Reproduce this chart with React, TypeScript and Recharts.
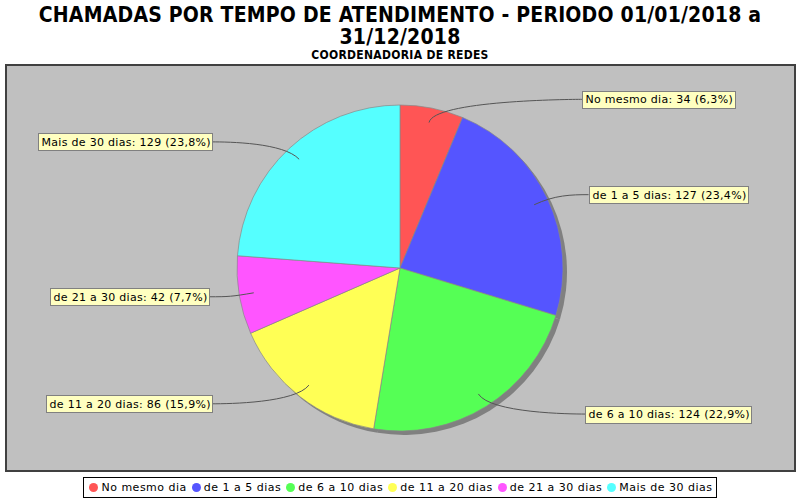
import React from 'react';
import { PieChart, Pie, Cell } from 'recharts';

const categories = ['No mesmo dia', 'de 1 a 5 dias', 'de 6 a 10 dias', 'de 11 a 20 dias', 'de 21 a 30 dias', 'Mais de 30 dias'];
const counts = [34, 127, 124, 86, 42, 129];
const colors = ['#FF5555', '#5555FF', '#55FF55', '#FFFF55', '#FF55FF', '#55FFFF'];
const titleLines = ['CHAMADAS POR TEMPO DE ATENDIMENTO - PERIODO 01/01/2018 a', '31/12/2018'];
const subtitle = 'COORDENADORIA DE REDES';

const data = categories.map((name, i) => ({ name, value: counts[i] }));
const total = counts.reduce((a, b) => a + b, 0);

const LABEL_FONT = "11px 'DejaVu Sans'";
const LABEL_SPACING = 0.3;
let ctx: CanvasRenderingContext2D | null = null;
function measure(t: string, font: string): number {
  if (!ctx) ctx = document.createElement('canvas').getContext('2d');
  if (!ctx) return t.length * 6.4;
  ctx.font = font;
  return ctx.measureText(t).width;
}

const pctText = (v: number) => (v / total * 100).toFixed(1).replace('.', ',') + '%';

const renderLabel = (p: any) => {
  const { cx, cy, midAngle, index, value, outerRadius } = p;
  const R = outerRadius;
  const rad = Math.PI / 180;
  const c = Math.cos(midAngle * rad);
  const s = Math.sin(midAngle * rad);
  const right = c >= 0;
  const y = cy - s * (R + 9);
  const text = `${categories[index]}: ${value} (${pctText(value)})`;
  const w = Math.round(measure(text, LABEL_FONT) + text.length * LABEL_SPACING) + 5;
  const h = 17;
  const edge = right ? cx + 180 + 9.5 * Math.abs(c) : cx - 182 - 9.5 * Math.abs(c);
  const boxX = right ? edge : edge - w;
  const anchorX = right ? cx + R + 8 : cx - R - 8;
  const elbowX = cx + c * (R + 8);
  const elbowY = cy - s * (R + 8);
  const linkX = cx + c * R * 0.91;
  const linkY = cy - s * R * 0.91;
  return (
    <g key={`lbl-${index}`}>
      <path d={`M${edge},${y} C${anchorX},${y} ${elbowX},${elbowY} ${linkX},${linkY}`} fill="none" stroke="#555555" strokeWidth={1} />
      <rect x={Math.round(boxX) + 0.5} y={Math.round(y - h / 2) + 0.5} width={w} height={h} fill="#FFFFC0" stroke="#808080" strokeWidth={1} />
      <text x={Math.round(boxX) + 3.5} y={Math.round(y) + 4} fontSize={11} fontFamily="'DejaVu Sans'" letterSpacing={LABEL_SPACING} fill="#000">{text}</text>
    </g>
  );
};

export default function App() {
  return (
    <div style={{ position: 'absolute', left: 0, top: 0, width: 800, height: 500, background: '#fff', overflow: 'hidden' }}>
      <svg width={800} height={62} style={{ position: 'absolute', left: 0, top: 0 }}>
        {titleLines.map((t, i) => (
          <text key={i} x={400} y={22 + i * 22} textAnchor="middle" fontFamily="'DejaVu Sans Condensed'" fontWeight="bold" fontSize={21} letterSpacing={0.2} fill="#000">{t}</text>
        ))}
        <text x={400} y={59} textAnchor="middle" fontFamily="'DejaVu Sans Condensed'" fontWeight="bold" fontSize={12} letterSpacing={0.3} fill="#000">{subtitle}</text>
      </svg>
      <div style={{ position: 'absolute', left: 5, top: 64, width: 791, height: 408, background: '#C0C0C0', border: '2px solid #404040', boxSizing: 'border-box' }} />
      <div style={{ position: 'absolute', left: 0, top: 0 }}>
        <PieChart width={800} height={500} margin={{ top: 0, right: 0, bottom: 0, left: 0 }}>
          <Pie data={data} dataKey="value" nameKey="name" cx={404} cy={272} outerRadius={163} startAngle={90} endAngle={-270}
            fill="#808080" stroke="none" isAnimationActive={false} legendType="none" label={false} labelLine={false}>
            {data.map((d, i) => <Cell key={i} fill="#808080" stroke="none" />)}
          </Pie>
          <Pie data={data} dataKey="value" nameKey="name" cx={400} cy={268} outerRadius={163} startAngle={90} endAngle={-270}
            stroke="#888888" strokeWidth={0.7} isAnimationActive={false} label={renderLabel} labelLine={false}>
            {data.map((d, i) => <Cell key={i} fill={colors[i]} stroke="#888888" />)}
          </Pie>
        </PieChart>
      </div>
      <div style={{ position: 'absolute', left: 0, top: 477, width: 800, display: 'flex', justifyContent: 'center' }}>
        <div style={{ display: 'flex', alignItems: 'center', height: 21, border: '1px solid #000', boxSizing: 'border-box', padding: '0 3px 0 5px', background: '#fff', fontFamily: "'DejaVu Sans'", fontSize: 11, letterSpacing: 0.5, color: '#000', whiteSpace: 'nowrap' }}>
          {categories.map((c, i) => (
            <span key={i} style={{ display: 'flex', alignItems: 'center', marginRight: i < categories.length - 1 ? 5 : 0 }}>
              <span style={{ width: 9, height: 9, borderRadius: '50%', background: colors[i], marginRight: 3, display: 'inline-block' }} />
              {c}
            </span>
          ))}
        </div>
      </div>
    </div>
  );
}
